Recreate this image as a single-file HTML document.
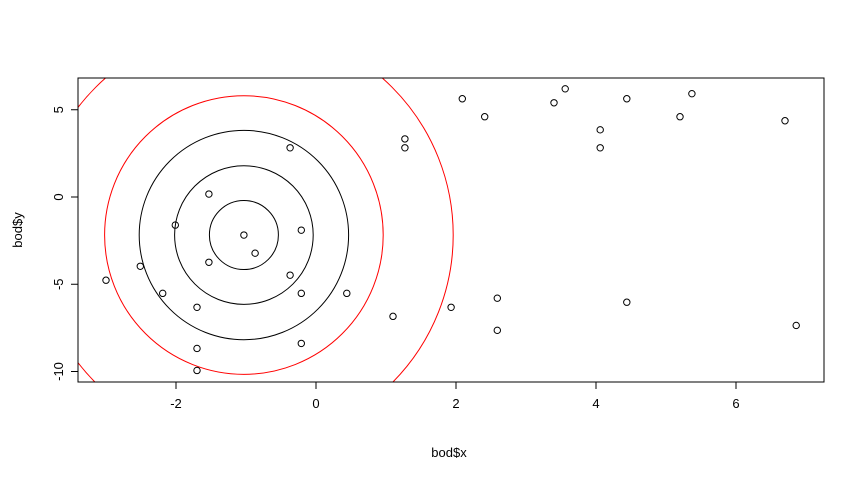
<!DOCTYPE html>
<html><head><meta charset="utf-8"><style>
html,body{margin:0;padding:0;background:#fff;}
svg text{font-family:"Liberation Sans",Arial,sans-serif;font-size:13px;fill:#000;}
</style></head><body>
<svg id="chart" width="864" height="480" xmlns="http://www.w3.org/2000/svg">
<defs><clipPath id="clip"><rect x="78" y="78" width="746" height="304"/></clipPath></defs>
<g id="circles" clip-path="url(#clip)"></g>
<g id="points"></g>
<rect x="78" y="78" width="746" height="304" fill="none" stroke="#000" stroke-width="1"/>
<g id="axes"></g>
<text x="449" y="457" text-anchor="middle">bod$x</text>
<text transform="translate(22,230) rotate(-90)" text-anchor="middle">bod$y</text>
</svg>
<script>
const xs = [-3.0,-2.51,-2.19,-2.01,-1.7,-1.7,-1.7,-1.53,-1.53,-1.03,-0.87,-0.37,-0.37,-0.21,-0.21,-0.21,0.44,1.1,1.27,1.27,1.93,2.09,2.41,2.59,2.59,3.4,3.56,4.06,4.06,4.44,4.44,5.2,5.37,6.7,6.86];
const ys = [-4.77,-3.97,-5.52,-1.61,-6.32,-8.68,-9.94,0.17,-3.74,-2.18,-3.22,2.82,-4.48,-1.9,-5.52,-8.39,-5.52,-6.84,3.33,2.82,-6.32,5.63,4.6,-5.8,-7.64,5.4,6.2,3.85,2.82,5.63,-6.03,4.6,5.92,4.37,-7.36];
const xTicks = [-2,0,2,4,6];
const yTicks = [5,0,-5,-10];
const circleCenter = [-1.03,-2.18];
const circleRadii = [0.345,0.693,1.047,1.393,2.093]; // inches*100px scale
const circleColors = ['black','black','black','red','red'];
const X = v => 316 + v*70;
const Y = v => 197 - v*17.45;
const NS='http://www.w3.org/2000/svg';
const mk=(t,a,p)=>{const e=document.createElementNS(NS,t);for(const k in a)e.setAttribute(k,a[k]);p.appendChild(e);return e;};
const cg=document.getElementById('circles');
circleRadii.forEach((r,i)=>{
  const c=mk('circle',{cx:X(circleCenter[0]),cy:Y(circleCenter[1]),r:r*100,fill:'none',stroke:circleColors[i],'stroke-width':1},cg);
  
  
});
const pg=document.getElementById('points');
xs.forEach((x,i)=>{
  const c=mk('circle',{cx:X(x),cy:Y(ys[i]),r:3.2,fill:'none',stroke:'#000','stroke-width':1},pg);
  
  
});
const ag=document.getElementById('axes');
mk('line',{x1:X(-2),x2:X(6),y1:382,y2:382,stroke:'#000'},ag);
xTicks.forEach(t=>{
  mk('line',{x1:X(t),x2:X(t),y1:382,y2:389,stroke:'#000'},ag);
  const tx=mk('text',{x:X(t),y:408,'text-anchor':'middle'},ag);tx.textContent=t;
  
  
});
mk('line',{x1:78,x2:78,y1:Y(5),y2:Y(-10),stroke:'#000'},ag);
yTicks.forEach(t=>{
  mk('line',{x1:71,x2:78,y1:Y(t),y2:Y(t),stroke:'#000'},ag);
  const tx=mk('text',{transform:`translate(63,${Y(t)}) rotate(-90)`,'text-anchor':'middle'},ag);tx.textContent=t;
  
  
});
</script>
</body></html>
